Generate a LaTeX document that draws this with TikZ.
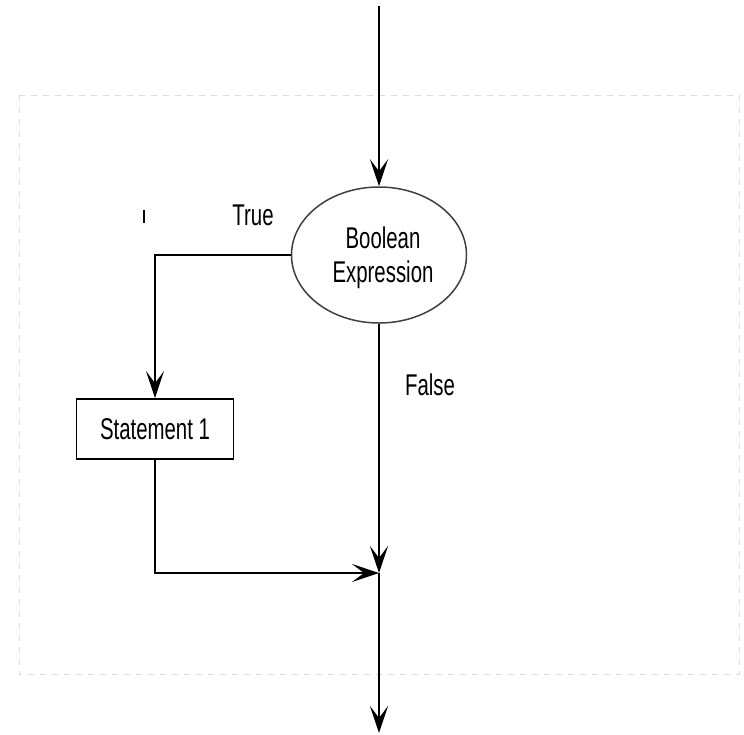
\documentclass[tikz,border=0pt]{standalone}
\usepackage{fontspec}
\setmainfont[FakeStretch=0.68]{Liberation Sans}
\usepackage{tikz}
\usetikzlibrary{arrows.meta,positioning,calc,shapes.geometric}
\definecolor{framegray}{HTML}{DCDCDC}
\definecolor{ringgray}{HTML}{404040}

\begin{document}
\begin{tikzpicture}[
  x=1pt,y=-1pt,
  font=\fontsize{30}{34}\selectfont,
  decision/.style={ellipse,draw=ringgray,line width=1.5pt,align=center,inner sep=0pt,minimum width=175pt,minimum height=136pt},
  box/.style={draw,line width=1.8pt,align=center,inner sep=0pt,minimum width=157pt,minimum height=60pt},
  arr/.style={-{Stealth[length=27pt,width=18pt,inset=12pt]},line width=2pt}
]
\useasboundingbox (0,0) rectangle (744,734);
\draw[framegray,line width=1pt,dash pattern=on 6pt off 6pt] (19,95) rectangle (739,674);
\node[decision] (expr) at (379,255) {};
\node (exprtext) at (383,258) [align=center] {Boolean\\Expression};
\node[box] (stmt) at (155,429) {Statement 1};
\coordinate (top) at (379,6);
\coordinate (join) at (379,573);
\coordinate (exit) at (379,733);
\node (true) at (253,215) {True};
\node (false) at (430,385) {False};
\draw[line width=1.2pt] (144,210) -- (144,223);
\draw[arr] (top) -- (expr.north);
\draw[arr] (expr.west) -| (stmt.north);
\draw[arr] (expr.south) -- (join);
\draw[arr] (stmt.south) |- (join);
\draw[arr] (join) -- (exit);
\end{tikzpicture}
\end{document}
